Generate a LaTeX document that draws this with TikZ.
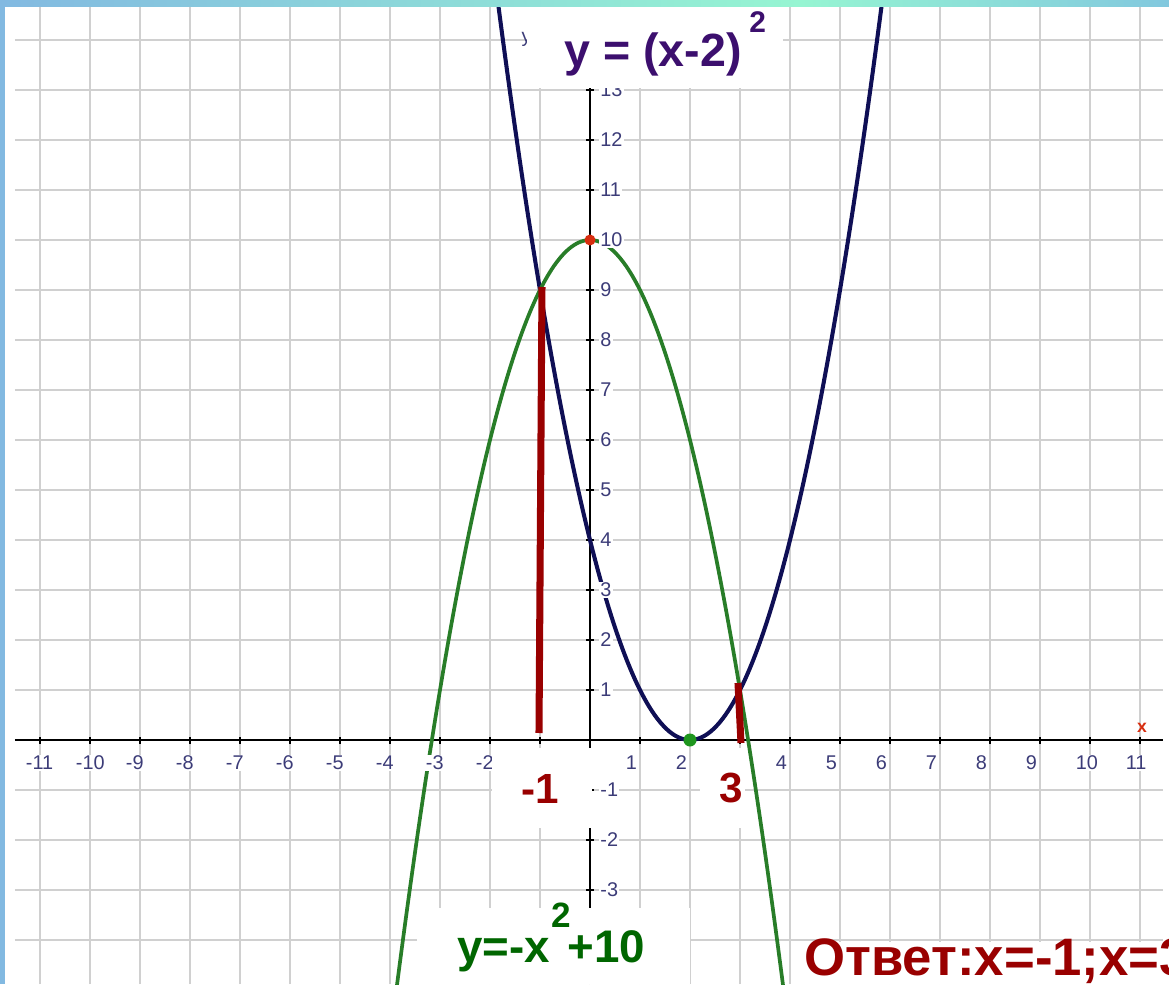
\documentclass[tikz,border=0pt]{standalone}
\usepackage{fontspec}
\setmainfont{Liberation Sans}
\definecolor{gridc}{RGB}{208,208,208}
\definecolor{tickc}{RGB}{60,60,120}
\definecolor{bluec}{RGB}{15,15,85}
\definecolor{greenc}{RGB}{40,125,40}
\definecolor{darkred}{RGB}{153,0,0}
\definecolor{titlec}{RGB}{60,15,110}
\definecolor{labgreen}{RGB}{0,102,0}
\definecolor{dotred}{RGB}{215,45,15}
\definecolor{dotgreen}{RGB}{30,150,30}
\definecolor{barA}{RGB}{130,185,225}
\definecolor{barB}{RGB}{150,245,210}
\definecolor{barC}{RGB}{130,200,222}
\begin{document}
\begin{tikzpicture}[
  gridline/.style={draw=gridc, line width=0.85pt},
  axisline/.style={draw=black, line width=1.1pt},
  tickmark/.style={draw=black, line width=1pt},
  ticklabel/.style={font=\fontsize{11.3}{12.5}\selectfont, text=tickc, fill=white, inner sep=0.6pt},
  bluecurve/.style={draw=bluec, line width=2.3pt, line join=round},
  greencurve/.style={draw=greenc, line width=2.1pt, line join=round},
  redline/.style={draw=darkred, line width=4pt},
  whitebox/.style={fill=white, draw=none},
  biglabel/.style={font=\bfseries\fontsize{24}{26}\selectfont, inner sep=0pt}
]
\useasboundingbox (-11.8,-4.88) rectangle (11.58,14.8);
\clip (-11.8,-4.88) rectangle (11.58,14.8);
\fill[white] (-11.8,-4.88) rectangle (11.58,14.8);
% grid
\foreach \i in {-11,...,11} \draw[gridline] (\i,-4.88) -- (\i,14.8);
\foreach \j in {-4,...,14} \draw[gridline] (-11.5,\j) -- (11.45,\j);
% axes
\coordinate (xl) at (-11.5,0);
\coordinate (xr) at (11.45,0);
\coordinate (yb) at (0,-4.88);
\coordinate (yt) at (0,14.8);
\draw[axisline] (xl) -- (xr);
\draw[axisline] (yb) -- (yt);
\foreach \i in {-11,...,11} \draw[tickmark] (\i,-0.07) -- (\i,0.07);
\foreach \j in {-4,...,14} \draw[tickmark] (-0.07,\j) -- (0.07,\j);
% curves
\draw[bluecurve] plot[domain=-1.9:5.9, samples=160] (\x,{(\x-2)*(\x-2)});
\draw[greencurve] plot[domain=-3.95:3.95, samples=160] (\x,{10-\x*\x});
% tick labels
\foreach \i in {-11,...,-2,1,2,4,5,...,11} \node[ticklabel, anchor=west] (tx\i) at (\i-0.31,-0.46) {\i};
\foreach \j in {-3,-2,-1,1,2,...,13} \node[ticklabel, anchor=west] (ty\j) at (0.18,\j) {\j};
\node[font=\bfseries\fontsize{10}{11}\selectfont, text=dotred, inner sep=0pt] (xname) at (11.04,0.24) {x};
\node[font=\fontsize{11}{12}\selectfont, text=tickc, inner sep=0pt] (yname) at (-1.27,14.02) {y};
% solution segments
\coordinate (s1t) at (-0.96,9.06);
\coordinate (s1b) at (-1.02,0.14);
\coordinate (s2t) at (2.96,1.14);
\coordinate (s2b) at (3.02,-0.06);
\draw[redline] (s1t) -- (s1b);
\draw[redline] (s2t) -- (s2b);
% vertices
\fill[dotred] (0,10) circle (0.11);
\fill[dotgreen] (2,0) circle (0.13);
% white label boxes
\fill[whitebox] (-1.26,13.04) rectangle (3.86,14.8);
\fill[whitebox] (-1.96,-0.16) rectangle (0.04,-1.76);
\fill[whitebox] (2.2,-0.16) rectangle (3.1,-1.76);
\fill[whitebox] (-3.46,-3.36) rectangle (2.0,-4.88);
\fill[whitebox] (4.2,-4.04) rectangle (11.58,-4.88);
% labels
\node[font=\bfseries\fontsize{26.5}{28}\selectfont, text=titlec, inner sep=0pt, anchor=base west] (title) at (-0.52,13.46) {y = (x-2)};
\node[font=\bfseries\fontsize{17}{18}\selectfont, text=titlec, inner sep=0pt, anchor=base west] (titlesup) at (3.18,14.14) {2};
\node[biglabel, text=darkred, anchor=base] (lm1) at (-1.0,-1.26) {-1};
\node[biglabel, text=darkred, anchor=base] (l3) at (2.82,-1.24) {3};
\node[font=\bfseries\fontsize{26}{28}\selectfont, text=labgreen, inner sep=0pt, anchor=base west] (g1) at (-2.66,-4.44) {y=-x};
\node[font=\bfseries\fontsize{20}{22}\selectfont, text=labgreen, inner sep=0pt, anchor=base] (g2) at (-0.58,-3.74) {2};
\node[font=\bfseries\fontsize{26}{28}\selectfont, text=labgreen, inner sep=0pt, anchor=base west] (g3) at (-0.46,-4.44) {+10};
\node[font=\bfseries\fontsize{30}{32}\selectfont, text=darkred, inner sep=0pt, anchor=base west] (ans) at (4.28,-4.7) {Ответ:x=-1;x=3};
% frame
\fill[barA] (-11.8,-4.88) rectangle (-11.7,14.8);
\shade[left color=barA, right color=barB] (-11.8,14.66) rectangle (4.2,14.8);
\shade[left color=barB, right color=barC] (4.2,14.66) rectangle (11.58,14.8);
\end{tikzpicture}
\end{document}
